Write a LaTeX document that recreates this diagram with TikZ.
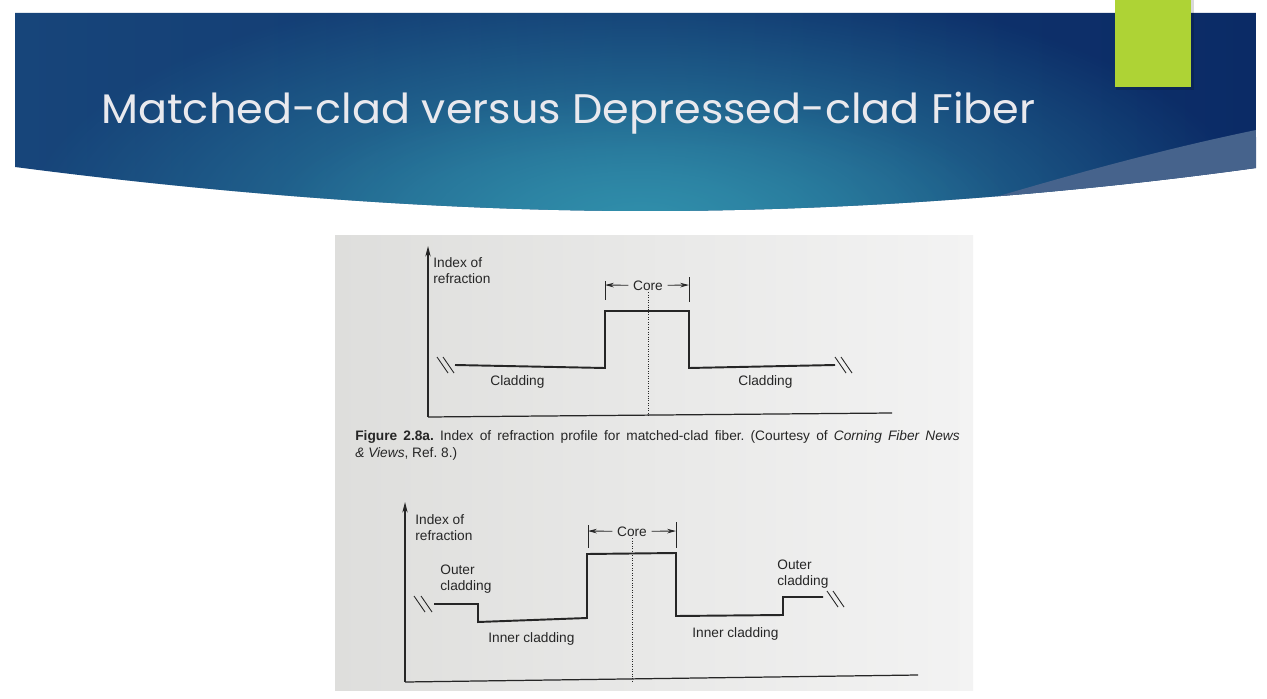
\documentclass[tikz,border=0pt]{standalone}
\usepackage{fontspec}
\setmainfont{Liberation Sans}
\newfontfamily\titlefont{Poppins}
\usetikzlibrary{arrows.meta,positioning,calc,fadings}
\frenchspacing
\definecolor{SlideNavy}{HTML}{0B2B66}
\definecolor{SlideBlue}{HTML}{17457A}
\definecolor{SlideTeal}{HTML}{3190AC}
\definecolor{SlideSwoosh}{HTML}{46638C}
\definecolor{SlideLime}{HTML}{AED335}
\definecolor{TitleGray}{HTML}{E9E9EE}
\definecolor{PaperGray}{HTML}{DEDEDC}
\definecolor{PaperLight}{HTML}{F3F3F3}
\definecolor{Ink}{HTML}{262626}
\tikzfading[name=softglow,inner color=transparent!0,outer color=transparent!100]
\tikzset{axisline/.style={draw=Ink,line width=0.7pt}, profileline/.style={draw=Ink,line width=1.1pt,line join=miter}, breakmark/.style={draw=Ink,line width=0.5pt}, coretick/.style={draw=Ink,line width=0.5pt}, corearrow/.style={draw=Ink,line width=0.5pt,-{Stealth[length=5pt,width=2.6pt]}}, centerline/.style={draw=Ink,line width=0.4pt,densely dotted,shorten <=1pt}, txt/.style={text=Ink,font=\fontsize{7.8}{8.6}\selectfont,inner sep=0pt,align=left}}
\def\bannerpath{(15,13) -- (1256,13) -- (1256,168) .. controls (1060,195) and (850,211) .. (645,211) .. controls (450,211) and (230,195) .. (15,167) -- cycle}

\begin{document}
\begin{tikzpicture}[x=0.02cm,y=-0.02cm]
\useasboundingbox (0,0) rectangle (1267,699);
% title banner
\begin{scope}
\clip \bannerpath;
\shade[left color=SlideBlue,right color=SlideNavy] (15,13) rectangle (1256,215);
\fill[SlideTeal,path fading=softglow] (640,225) ellipse [x radius=620,y radius=250];
\fill[SlideTeal,opacity=0.5,path fading=softglow] (640,215) ellipse [x radius=380,y radius=120];
\fill[SlideSwoosh] (1256,130) .. controls (1150,152) and (1060,178) .. (975,203) -- (975,230) -- (1270,230) -- cycle;
\end{scope}
\fill[black,opacity=0.15] (1116,0) rectangle (1194,90);
\fill[SlideLime] (1115,0) rectangle (1191,87);
\node[font=\titlefont\fontsize{23.5}{28}\selectfont,text=TitleGray,anchor=base west,inner sep=0pt] (title) at (101,124) {\scalebox{1.04}[1]{Matched-clad versus Depressed-clad Fiber}};
% scanned page
\shade[left color=PaperGray,right color=PaperLight] (335,235) rectangle (973,690);
% matched-clad profile
\coordinate (mo) at (428,417);
\coordinate (my) at (428,246);
\coordinate (mx) at (892,413);
\draw[axisline,-{Stealth[length=6pt,width=3pt]}] (mo) -- (my);
\draw[axisline] (mo) -- (mx);
\node[txt,anchor=base west] (mindex) at (433,283) {Index of\\refraction};
\draw[profileline] (455,365) -- (605,368) -- (605,311) -- (689,311) -- (689,368) -- (835,365);
\coordinate (mcl) at (605,285);
\coordinate (mcr) at (689,285);
\draw[coretick] (605,281) -- (605,300);
\draw[coretick] (689,277) -- (689,302);
\node[txt,anchor=base,inner xsep=2.5pt] (mcore) at (648,290) {Core};
\draw[corearrow] (mcore.west) -- (mcl);
\draw[corearrow] (mcore.east) -- (mcr);
\draw[centerline] (mcore.south) -- (mcore |- mo);
\node[txt,anchor=base west] (mclad1) at (490,385) {Cladding};
\node[txt,anchor=base west] (mclad2) at (738,385) {Cladding};
\node[txt,anchor=base west] (mcap1) at (355,440) {\makebox[344pt][s]{\textbf{Figure 2.8a.} Index of refraction profile for matched-clad fiber. (Courtesy of \textit{Corning Fiber News}}};
\node[txt,anchor=base west] (mcap2) at (355,457) {\textit{\& Views}, Ref. 8.)};
% depressed-clad profile
\coordinate (do) at (405,682);
\coordinate (dy) at (405,502);
\coordinate (dx) at (918,675);
\draw[axisline,-{Stealth[length=6pt,width=3pt]}] (do) -- (dy);
\draw[axisline] (do) -- (dx);
\node[txt,anchor=base west] (dindex) at (415,540) {Index of\\refraction};
\draw[profileline] (434,604) -- (478,604) -- (478,622) -- (587,618) -- (587,554) -- (676,553) -- (676,616) -- (783,615) -- (783,597) -- (823,597);
\coordinate (dcl) at (588,531);
\coordinate (dcr) at (676,531);
\draw[coretick] (588,525) -- (588,548);
\draw[coretick] (676,522) -- (676,548);
\node[txt,anchor=base,inner xsep=2.5pt] (dcore) at (632,536) {Core};
\draw[corearrow] (dcore.west) -- (dcl);
\draw[corearrow] (dcore.east) -- (dcr);
\draw[centerline] (dcore.south) -- (dcore |- do);
\node[txt,anchor=base west] (douter1) at (440,590) {Outer\\cladding};
\node[txt,anchor=base west] (douter2) at (777,585) {Outer\\cladding};
\node[txt,anchor=base west] (dinner1) at (488,642) {Inner cladding};
\node[txt,anchor=base west] (dinner2) at (692,637) {Inner cladding};
% break marks
\foreach \bx/\by in {437/357,443/357,835/357,841/357,414/596,421/596,827/591,833/591}
  \draw[breakmark] (\bx,\by) -- ++(11,16);
\end{tikzpicture}
\end{document}
